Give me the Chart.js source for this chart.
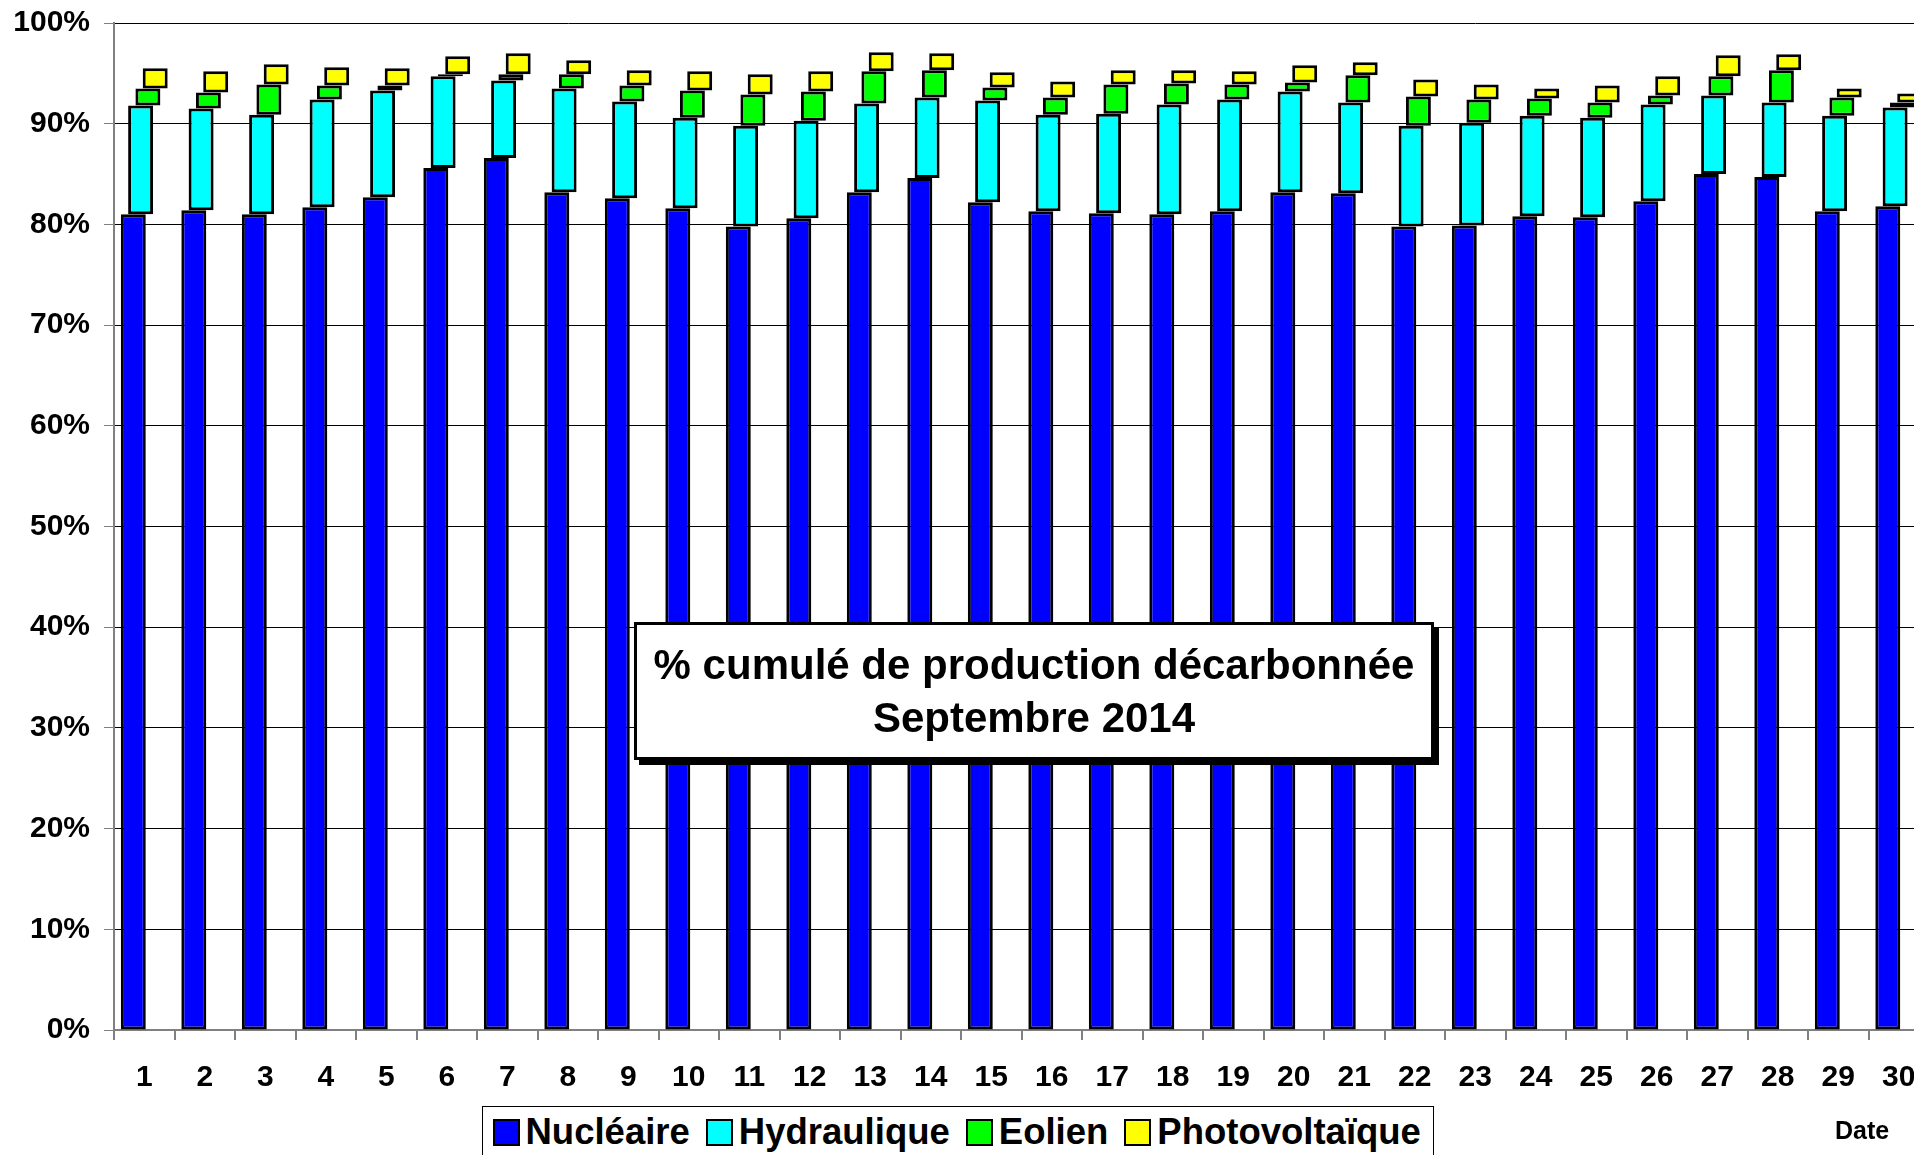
<!DOCTYPE html>
<html lang="fr">
<head>
<meta charset="UTF-8" />
<title>% cumulé de production décarbonnée - Septembre 2014</title>
<script src="https://cdn.jsdelivr.net/npm/chart.js"></script>
<style>
  html, body { margin: 0; padding: 0; background: #fff; overflow: hidden; }
  #wrap { position: relative; width: 1940px; height: 1155px; }
  #titre {
    position: absolute; left: 634px; top: 622px; width: 800px; height: 138px;
    box-sizing: border-box; border: 3px solid #000; background: #fff;
    box-shadow: 5px 5px 0 #000;
    font: bold 42px "Liberation Sans", Arial, sans-serif;
    text-align: center; line-height: 53px; padding-top: 13px;
  }
  #legende {
    position: absolute; left: 482px; top: 1106px; width: 952px; height: 70px;
    box-sizing: border-box; border: 1.5px solid #000; background: #fff;
    display: flex; align-items: flex-start; padding: 10px 0 0 9.5px;
    font: bold 36.5px "Liberation Sans", Arial, sans-serif;
  }
  .item { display: flex; align-items: center; margin-right: 16px; height: 30px; }
  .swatch { width: 27px; height: 27px; box-sizing: border-box; border: 2.5px solid #000; margin-right: 6px; }
  #date {
    position: absolute; left: 1835px; top: 1115px;
    font: bold 25px "Liberation Sans", Arial, sans-serif; line-height: 30px;
  }
</style>
</head>
<body>
<div id="wrap">
  <canvas id="graph" width="1940" height="1155"></canvas>
  <div id="titre">% cumulé de production décarbonnée<br>Septembre 2014</div>
  <div id="legende"></div>
  <div id="date">Date</div>
</div>
<script>
  // jours du mois (axe des x)
  const jours = ["1", "2", "3", "4", "5", "6", "7", "8", "9", "10",
    "11", "12", "13", "14", "15", "16", "17", "18", "19", "20",
    "21", "22", "23", "24", "25", "26", "27", "28", "29", "30"];

  // part de chaque filière, en % de la production
  const nucleaire = [81.0, 81.4, 81.0, 81.7, 82.7, 85.6, 86.6, 83.2, 82.6, 81.6,
    79.8, 80.6, 83.2, 84.6, 82.2, 81.3, 81.1, 81.0, 81.3, 83.2,
    83.1, 79.8, 79.9, 80.8, 80.7, 82.3, 85.0, 84.7, 81.3, 81.8];
  const hydraulique = [10.8, 10.1, 9.9, 10.7, 10.6, 9.1, 7.7, 10.3, 9.6, 9.0,
    10.0, 9.7, 8.8, 8.0, 10.1, 9.6, 9.9, 10.9, 11.1, 10.0,
    9.0, 10.0, 10.2, 10.0, 9.9, 9.6, 7.8, 7.4, 9.5, 9.8];
  const eolien = [1.7, 1.6, 3.0, 1.4, 0.5, 0.2, 0.6, 1.4, 1.6, 2.7,
    3.1, 2.9, 3.2, 2.7, 1.3, 1.7, 2.9, 2.1, 1.5, 0.9,
    2.7, 2.9, 2.3, 1.7, 1.5, 0.9, 1.9, 3.2, 1.8, 0.5];
  const photovoltaique = [2.0, 2.1, 2.0, 1.8, 1.7, 1.8, 2.1, 1.4, 1.5, 1.9,
    2.0, 2.0, 1.9, 1.7, 1.5, 1.6, 1.4, 1.3, 1.3, 1.7,
    1.3, 1.7, 1.5, 1.0, 1.7, 1.9, 2.1, 1.6, 0.9, 0.9];

  const filieres = ["Nucléaire", "Hydraulique", "Eolien", "Photovoltaïque"];
  const couleurs = ["#0000FF", "#00FFFF", "#00FF00", "#FFFF00"];
  const police = '"Liberation Sans", Arial, sans-serif';

  // barres flottantes empilées : chaque filière part du sommet de la précédente
  const parts = [nucleaire, hydraulique, eolien, photovoltaique];
  const cumul = jours.map(() => 0);
  const datasets = parts.map((valeurs, s) => {
    const data = valeurs.map((v, i) => {
      const bas = cumul[i];
      cumul[i] = Math.round((bas + v) * 100) / 100;
      return [bas, cumul[i]];
    });
    return {
      label: filieres[s],
      data: data,
      backgroundColor: couleurs[s],
      borderColor: "#000",
      borderWidth: 3,
      borderSkipped: false,
      categoryPercentage: 0.4826,
      barPercentage: 3.42,
    };
  });

  new Chart(document.getElementById("graph"), {
    type: "bar",
    data: { labels: jours, datasets: datasets },
    options: {
      responsive: false,
      animation: false,
      layout: { padding: { top: 23, left: 0, right: 11, bottom: 39 } },
      plugins: {
        legend: { display: false },
        title: { display: false },
        tooltip: { enabled: false },
      },
      scales: {
        x: {
          offset: true,
          grid: {
            offset: true,
            drawOnChartArea: false,
            drawTicks: true,
            tickLength: 10,
            color: "#808080",
            lineWidth: 2,
          },
          border: { display: true, color: "#808080", width: 2 },
          ticks: {
            color: "#000",
            font: { family: police, size: 30, weight: "bold" },
            padding: 20,
            maxRotation: 0,
            autoSkip: false,
          },
        },
        y: {
          min: 0,
          max: 100,
          ticks: {
            stepSize: 10,
            color: "#000",
            font: { family: police, size: 30, weight: "bold" },
            padding: 14,
            callback: (v) => v + "%",
          },
          grid: {
            color: "#000",
            lineWidth: 1,
            drawTicks: true,
            tickLength: 10,
            tickColor: "#808080",
          },
          border: { color: "#808080", width: 2 },
          afterFit: (scale) => {
            scale.width = 114;
            scale.paddingTop = 0;
          },
        },
      },
    },
  });

  // légende encadrée, sous le graphique
  const legende = document.getElementById("legende");
  filieres.forEach((nom, s) => {
    const item = document.createElement("div");
    item.className = "item";
    item.innerHTML = '<span class="swatch" style="background:' + couleurs[s] + '"></span>' + nom;
    legende.appendChild(item);
  });
</script>
</body>
</html>
